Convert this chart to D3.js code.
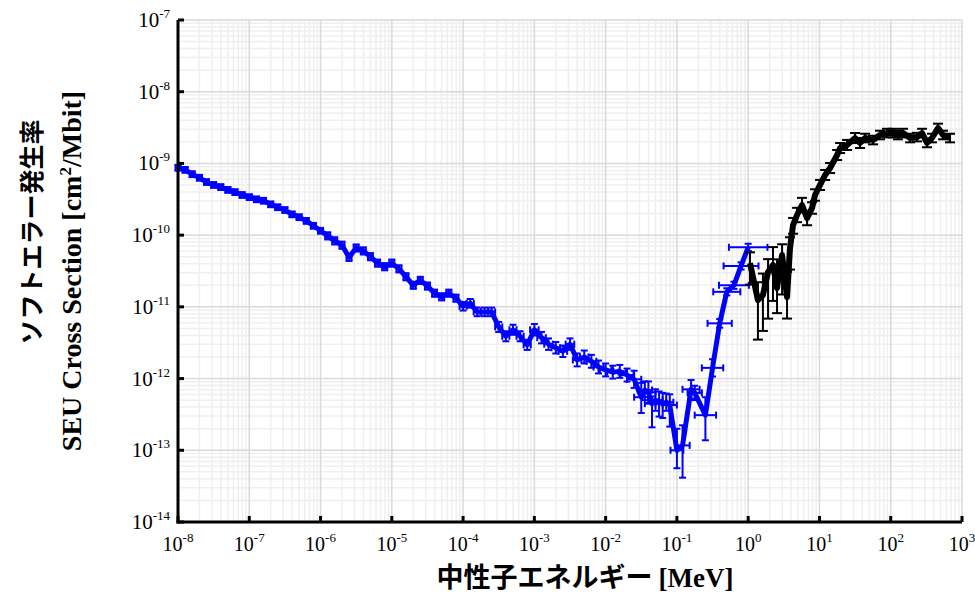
<!DOCTYPE html>
<html>
<head>
<meta charset="utf-8">
<script src="https://cdn.jsdelivr.net/npm/d3@7"></script>
<style>
  html, body { margin: 0; padding: 0; background: #fff; }
</style>
</head>
<body>
<svg id="chart"></svg>
<script>
const width = 975, height = 595;
const margin = { left: 178, right: 13, top: 20, bottom: 73 };
const blue_color = "#0000FF", black_color = "#000000";
const grid_major = "#D9D9D9", grid_minor = "#EFEFEF";
const serif = "'Liberation Serif', 'Times New Roman', serif";
const jp = "'Noto Sans CJK JP', 'Noto Sans', sans-serif";

// axis ticks (decade exponents)
const xExponents = [-8, -7, -6, -5, -4, -3, -2, -1, 0, 1, 2, 3];
const yExponents = [-14, -13, -12, -11, -10, -9, -8, -7];

// low energy series (blue): [energy MeV, sigma, energy err (dex), sigma err down (dex), sigma err up (dex)]
const blueData = [
  [1.00e-8, 8.71e-10, 0.035, 0.04, 0.04],
  [1.26e-8, 8.13e-10, 0.035, 0.04, 0.04],
  [1.58e-8, 7.08e-10, 0.035, 0.04, 0.04],
  [2.00e-8, 6.31e-10, 0.035, 0.04, 0.04],
  [2.51e-8, 5.50e-10, 0.035, 0.04, 0.04],
  [3.16e-8, 5.01e-10, 0.035, 0.04, 0.04],
  [3.98e-8, 4.68e-10, 0.035, 0.04, 0.04],
  [5.01e-8, 4.27e-10, 0.035, 0.04, 0.04],
  [6.31e-8, 3.98e-10, 0.035, 0.04, 0.04],
  [7.94e-8, 3.63e-10, 0.035, 0.04, 0.04],
  [1.00e-7, 3.39e-10, 0.035, 0.04, 0.04],
  [1.26e-7, 3.16e-10, 0.035, 0.04, 0.04],
  [1.58e-7, 3.02e-10, 0.035, 0.04, 0.04],
  [2.00e-7, 2.69e-10, 0.035, 0.04, 0.04],
  [2.51e-7, 2.45e-10, 0.035, 0.04, 0.04],
  [3.16e-7, 2.24e-10, 0.035, 0.04, 0.04],
  [3.98e-7, 1.95e-10, 0.035, 0.04, 0.04],
  [5.01e-7, 1.78e-10, 0.035, 0.04, 0.04],
  [6.31e-7, 1.58e-10, 0.035, 0.04, 0.04],
  [7.94e-7, 1.35e-10, 0.035, 0.04, 0.04],
  [1.00e-6, 1.15e-10, 0.035, 0.04, 0.04],
  [1.26e-6, 9.77e-11, 0.035, 0.05, 0.05],
  [1.58e-6, 8.32e-11, 0.035, 0.05, 0.05],
  [2.00e-6, 7.24e-11, 0.035, 0.05, 0.05],
  [2.51e-6, 4.90e-11, 0.035, 0.05, 0.05],
  [3.16e-6, 6.61e-11, 0.035, 0.05, 0.05],
  [3.98e-6, 6.03e-11, 0.035, 0.05, 0.05],
  [5.01e-6, 5.01e-11, 0.035, 0.05, 0.05],
  [6.31e-6, 4.07e-11, 0.035, 0.05, 0.05],
  [7.94e-6, 3.63e-11, 0.035, 0.05, 0.05],
  [1.00e-5, 4.07e-11, 0.035, 0.05, 0.05],
  [1.26e-5, 3.39e-11, 0.035, 0.05, 0.05],
  [1.58e-5, 2.63e-11, 0.035, 0.05, 0.05],
  [2.00e-5, 2.00e-11, 0.035, 0.05, 0.05],
  [2.51e-5, 2.34e-11, 0.035, 0.05, 0.05],
  [3.16e-5, 1.95e-11, 0.035, 0.05, 0.05],
  [3.98e-5, 1.55e-11, 0.035, 0.05, 0.05],
  [5.01e-5, 1.38e-11, 0.035, 0.05, 0.05],
  [6.31e-5, 1.55e-11, 0.035, 0.05, 0.05],
  [7.94e-5, 1.32e-11, 0.035, 0.05, 0.05],
  [1.00e-4, 1.02e-11, 0.05, 0.06, 0.06],
  [1.26e-4, 1.12e-11, 0.05, 0.06, 0.06],
  [1.58e-4, 8.51e-12, 0.05, 0.06, 0.06],
  [2.00e-4, 8.51e-12, 0.05, 0.06, 0.06],
  [2.51e-4, 8.51e-12, 0.05, 0.06, 0.06],
  [3.16e-4, 5.25e-12, 0.05, 0.07, 0.07],
  [3.98e-4, 3.89e-12, 0.05, 0.07, 0.07],
  [5.01e-4, 4.79e-12, 0.05, 0.07, 0.07],
  [6.31e-4, 3.89e-12, 0.05, 0.07, 0.07],
  [7.94e-4, 2.95e-12, 0.05, 0.07, 0.07],
  [1.00e-3, 4.79e-12, 0.06, 0.08, 0.08],
  [1.26e-3, 3.72e-12, 0.06, 0.08, 0.08],
  [1.58e-3, 3.02e-12, 0.06, 0.08, 0.08],
  [2.00e-3, 2.69e-12, 0.06, 0.08, 0.08],
  [2.51e-3, 2.40e-12, 0.06, 0.08, 0.08],
  [3.16e-3, 3.02e-12, 0.06, 0.08, 0.08],
  [3.98e-3, 1.82e-12, 0.06, 0.09, 0.09],
  [5.01e-3, 2.00e-12, 0.06, 0.09, 0.09],
  [6.31e-3, 1.74e-12, 0.07, 0.09, 0.09],
  [7.94e-3, 1.45e-12, 0.07, 0.09, 0.09],
  [1.00e-2, 1.32e-12, 0.08, 0.09, 0.09],
  [1.26e-2, 1.23e-12, 0.08, 0.09, 0.09],
  [1.58e-2, 1.26e-12, 0.09, 0.09, 0.09],
  [2.00e-2, 1.12e-12, 0.09, 0.09, 0.09],
  [2.51e-2, 9.77e-13, 0.1, 0.12, 0.12],
  [3.16e-2, 5.50e-13, 0.1, 0.22, 0.2],
  [3.55e-2, 6.92e-13, 0.1, 0.14, 0.12],
  [3.98e-2, 6.46e-13, 0.1, 0.15, 0.15],
  [4.47e-2, 4.47e-13, 0.1, 0.33, 0.1],
  [5.01e-2, 5.01e-13, 0.1, 0.15, 0.15],
  [5.62e-2, 4.68e-13, 0.1, 0.2, 0.15],
  [6.31e-2, 4.47e-13, 0.1, 0.2, 0.15],
  [7.08e-2, 4.68e-13, 0.1, 0.12, 0.12],
  [7.94e-2, 4.27e-13, 0.1, 0.3, 0.15],
  [1.00e-1, 1.00e-13, 0.09, 0.25, 0.3],
  [1.20e-1, 1.17e-13, 0.1, 0.45, 0.28],
  [1.58e-1, 7.08e-13, 0.12, 0.13, 0.13],
  [1.78e-1, 6.31e-13, 0.1, 0.1, 0.1],
  [2.51e-1, 3.09e-13, 0.15, 0.35, 0.25],
  [3.16e-1, 1.41e-12, 0.15, 0.12, 0.12],
  [3.98e-1, 5.89e-12, 0.17, 0.06, 0.06],
  [5.01e-1, 1.62e-11, 0.19, 0.05, 0.05],
  [6.31e-1, 2.00e-11, 0.21, 0.05, 0.05],
  [7.94e-1, 3.72e-11, 0.245, 0.05, 0.05],
  [1.00, 6.76e-11, 0.27, 0.05, 0.05]
];

// high energy series (black): [energy MeV, sigma, sigma err down (dex), sigma err up (dex)]
const blackData = [
  [1.06, 4.08e-11, 0.3, 0.15],
  [1.37, 1.24e-11, 0.55, 0.25],
  [1.61, 1.46e-11, 0.5, 0.3],
  [1.90, 3.06e-11, 0.65, 0.18],
  [2.23, 3.83e-11, 0.5, 0.25],
  [2.54, 1.83e-11, 0.35, 0.4],
  [2.99, 5.28e-11, 0.55, 0.15],
  [3.51, 1.37e-11, 0.3, 0.35],
  [3.86, 6.61e-11, 0.3, 0.15],
  [4.26, 1.38e-10, 0.12, 0.1],
  [4.85, 1.91e-10, 0.1, 0.1],
  [5.69, 2.63e-10, 0.1, 0.1],
  [6.70, 1.73e-10, 0.1, 0.1],
  [7.87, 2.39e-10, 0.08, 0.08],
  [8.67, 3.63e-10, 0.08, 0.08],
  [10.2, 5.01e-10, 0.07, 0.07],
  [12.0, 6.90e-10, 0.07, 0.07],
  [14.1, 8.63e-10, 0.07, 0.07],
  [17.7, 1.31e-9, 0.07, 0.07],
  [19.5, 1.64e-9, 0.07, 0.07],
  [24.4, 1.81e-9, 0.07, 0.07],
  [31.6, 2.26e-9, 0.07, 0.07],
  [37.1, 1.93e-9, 0.07, 0.07],
  [43.6, 2.26e-9, 0.06, 0.06],
  [56.5, 2.12e-9, 0.06, 0.06],
  [70.8, 2.49e-9, 0.06, 0.06],
  [88.7, 2.65e-9, 0.06, 0.06],
  [108, 2.65e-9, 0.06, 0.06],
  [126, 2.49e-9, 0.06, 0.06],
  [149, 2.65e-9, 0.06, 0.06],
  [187, 2.26e-9, 0.06, 0.06],
  [234, 2.33e-9, 0.06, 0.06],
  [275, 2.65e-9, 0.06, 0.06],
  [323, 1.93e-9, 0.06, 0.06],
  [379, 2.26e-9, 0.06, 0.06],
  [461, 3.12e-9, 0.06, 0.06],
  [542, 2.49e-9, 0.06, 0.06],
  [679, 2.26e-9, 0.06, 0.06]
];

const svg = d3.select("#chart")
  .attr("width", width)
  .attr("height", height)
  .style("font-family", serif);

const x = d3.scaleLog()
  .domain([1e-8, 1e3])
  .range([margin.left, width - margin.right]);
const y = d3.scaleLog()
  .domain([1e-14, 1e-7])
  .range([height - margin.bottom, margin.top]);

const x0 = margin.left, x1 = width - margin.right;
const y0 = height - margin.bottom, y1 = margin.top;

////////////////////////////////////
//            Grid                //
////////////////////////////////////

const minorX = [], minorY = [];
xExponents.slice(0, -1).forEach(e => d3.range(2, 10).forEach(m => minorX.push(m * Math.pow(10, e))));
yExponents.slice(0, -1).forEach(e => d3.range(2, 10).forEach(m => minorY.push(m * Math.pow(10, e))));

const grid = svg.append("g");
grid.selectAll(".gx-minor").data(minorX).enter().append("line")
  .attr("x1", d => x(d)).attr("x2", d => x(d))
  .attr("y1", y0).attr("y2", y1)
  .attr("stroke", grid_minor).attr("stroke-width", 1.5);
grid.selectAll(".gy-minor").data(minorY).enter().append("line")
  .attr("x1", x0).attr("x2", x1)
  .attr("y1", d => y(d)).attr("y2", d => y(d))
  .attr("stroke", grid_minor).attr("stroke-width", 1.5);
grid.selectAll(".gx-major").data(xExponents).enter().append("line")
  .attr("x1", d => x(Math.pow(10, d))).attr("x2", d => x(Math.pow(10, d)))
  .attr("y1", y0).attr("y2", y1)
  .attr("stroke", grid_major).attr("stroke-width", 1.5);
grid.selectAll(".gy-major").data(yExponents).enter().append("line")
  .attr("x1", x0).attr("x2", x1)
  .attr("y1", d => y(Math.pow(10, d))).attr("y2", d => y(Math.pow(10, d)))
  .attr("stroke", grid_major).attr("stroke-width", 1.5);

////////////////////////////////////
//        Series + errors         //
////////////////////////////////////

const line = d3.line().x(d => x(d[0])).y(d => y(d[1]));

function drawSeries(data, color, lineWidth, hasXErr, cap) {
  const g = svg.append("g");
  g.append("path")
    .datum(data)
    .attr("d", line)
    .attr("fill", "none")
    .attr("stroke", color)
    .attr("stroke-width", lineWidth)
    .attr("stroke-linejoin", "round");

  const lo = d => hasXErr ? d[3] : d[2];
  const hi = d => hasXErr ? d[4] : d[3];
  const bars = g.selectAll(".err").data(data).enter().append("g")
    .attr("stroke", color).attr("stroke-width", 2).attr("fill", "none");
  // vertical
  bars.append("line")
    .attr("x1", d => x(d[0])).attr("x2", d => x(d[0]))
    .attr("y1", d => y(d[1] / Math.pow(10, lo(d))))
    .attr("y2", d => y(d[1] * Math.pow(10, hi(d))));
  bars.append("line")
    .attr("x1", d => x(d[0]) - cap).attr("x2", d => x(d[0]) + cap)
    .attr("y1", d => y(d[1] / Math.pow(10, lo(d))))
    .attr("y2", d => y(d[1] / Math.pow(10, lo(d))));
  bars.append("line")
    .attr("x1", d => x(d[0]) - cap).attr("x2", d => x(d[0]) + cap)
    .attr("y1", d => y(d[1] * Math.pow(10, hi(d))))
    .attr("y2", d => y(d[1] * Math.pow(10, hi(d))));
  if (hasXErr) {
    bars.append("line")
      .attr("x1", d => x(d[0] / Math.pow(10, d[2]))).attr("x2", d => x(d[0] * Math.pow(10, d[2])))
      .attr("y1", d => y(d[1])).attr("y2", d => y(d[1]));
    bars.append("line")
      .attr("x1", d => x(d[0] / Math.pow(10, d[2]))).attr("x2", d => x(d[0] / Math.pow(10, d[2])))
      .attr("y1", d => y(d[1]) - cap).attr("y2", d => y(d[1]) + cap);
    bars.append("line")
      .attr("x1", d => x(d[0] * Math.pow(10, d[2]))).attr("x2", d => x(d[0] * Math.pow(10, d[2])))
      .attr("y1", d => y(d[1]) - cap).attr("y2", d => y(d[1]) + cap);
  }
}

drawSeries(blueData, blue_color, 5, true, 3.5);
drawSeries(blackData, black_color, 6, false, 5);

////////////////////////////////////
//            Axes                //
////////////////////////////////////

const axes = svg.append("g").attr("stroke", "#000").attr("stroke-width", 3);
axes.append("line").attr("x1", x0).attr("x2", x0).attr("y1", y0 + 1.5).attr("y2", y1);
axes.append("line").attr("x1", x0 - 1.5).attr("x2", x1).attr("y1", y0).attr("y2", y0);
axes.selectAll(".tx").data(xExponents).enter().append("line")
  .attr("x1", d => x(Math.pow(10, d))).attr("x2", d => x(Math.pow(10, d)))
  .attr("y1", y0).attr("y2", y0 - 6);
axes.selectAll(".ty").data(yExponents).enter().append("line")
  .attr("x1", x0).attr("x2", x0 + 6)
  .attr("y1", d => y(Math.pow(10, d))).attr("y2", d => y(Math.pow(10, d)));

function powerLabel(sel) {
  sel.append("tspan").text("10");
  sel.append("tspan")
    .attr("dy", -9)
    .attr("font-size", 13)
    .text(d => d);
}

svg.selectAll(".xlab").data(xExponents).enter().append("text")
  .attr("x", d => x(Math.pow(10, d)))
  .attr("y", y0 + 29)
  .attr("text-anchor", "middle")
  .attr("font-size", 20)
  .call(powerLabel);

svg.selectAll(".ylab").data(yExponents).enter().append("text")
  .attr("x", x0 - 8)
  .attr("y", d => y(Math.pow(10, d)) + 7)
  .attr("text-anchor", "end")
  .attr("font-size", 21)
  .call(powerLabel);

// axis titles
const xt = svg.append("text")
  .attr("x", 585)
  .attr("y", 587)
  .attr("text-anchor", "middle")
  .attr("font-weight", "bold")
  .attr("font-size", 27);
xt.append("tspan").attr("font-family", jp).text("中性子エネルギー ");
xt.append("tspan").attr("font-family", serif).text("[MeV]");

svg.append("text")
  .attr("transform", "translate(41,232) rotate(-90)")
  .attr("text-anchor", "middle")
  .attr("font-family", jp)
  .attr("font-weight", "bold")
  .attr("font-size", 25)
  .text("ソフトエラー発生率");

const yt = svg.append("text")
  .attr("transform", "translate(81,271) rotate(-90)")
  .attr("text-anchor", "middle")
  .attr("font-family", serif)
  .attr("font-weight", "bold")
  .attr("font-size", 28);
yt.append("tspan").text("SEU Cross Section [cm");
yt.append("tspan").attr("dy", -10).attr("font-size", 17).text("2");
yt.append("tspan").attr("dy", 10).text("/Mbit]");
</script>
</body>
</html>
